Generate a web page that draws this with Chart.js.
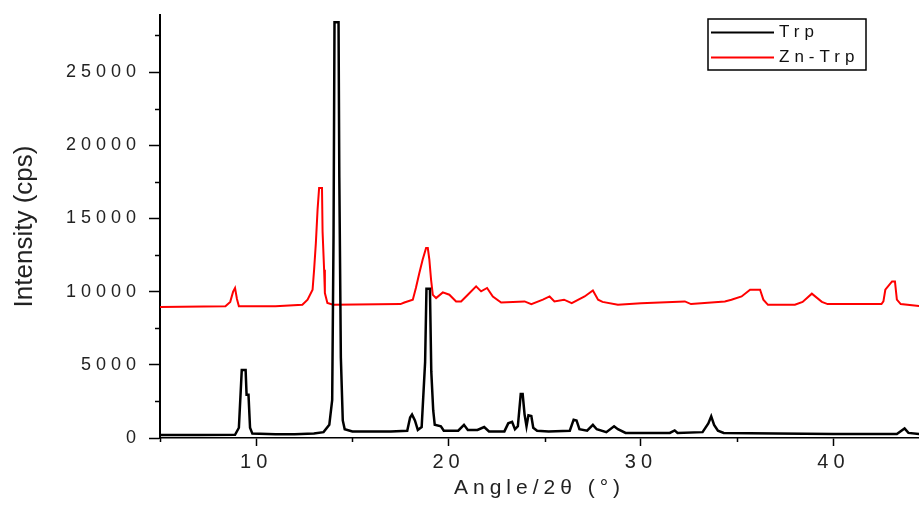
<!DOCTYPE html>
<html>
<head>
<meta charset="utf-8">
<script src="https://cdn.jsdelivr.net/npm/chart.js@4.4.1/dist/chart.umd.min.js"></script>
<style>
  html, body { margin: 0; padding: 0; background: #fff; }
</style>
</head>
<body>
<canvas id="xrdChart" width="919" height="505"></canvas>
<script>
// XRD patterns
const seriesNames = ['Trp', 'Zn-Trp'];

const trpAngle = [5.0, 7.0, 8.9, 9.1, 9.25, 9.45, 9.5, 9.6, 9.68, 9.8, 11.0, 12.0, 13.0, 13.5, 13.8,
    13.95, 14.02, 14.07, 14.28, 14.32, 14.4, 14.5, 14.6, 15.0, 17.0, 17.85, 18.0, 18.1, 18.25, 18.4,
    18.6, 18.78, 18.85, 19.03, 19.1, 19.2, 19.28, 19.6, 19.75, 20.5, 20.8, 21.0, 21.5, 21.85, 22.1,
    22.9, 23.1, 23.3, 23.45, 23.6, 23.75, 23.85, 23.95, 24.05, 24.15, 24.3, 24.4, 24.6, 25.2, 26.3,
    26.5, 26.65, 26.8, 27.2, 27.5, 27.7, 28.2, 28.6, 28.8, 29.2, 31.5, 31.75, 31.9, 33.2, 33.5,
    33.65, 33.8, 34.0, 34.3, 37.0, 40.0, 43.3, 43.7, 43.9, 44.6];
const trpCounts = [200, 200, 220, 700, 4650, 4650, 2950, 2950, 700, 300, 250, 250, 300, 400, 900,
    2600, 13800, 28400, 28400, 17800, 5500, 1200, 600, 450, 450, 500, 1400, 1600, 1200, 550,
    750, 5200, 10200, 10200, 4550, 1900, 900, 800, 500, 500, 900, 550, 550, 750, 450,
    450, 1000, 1100, 600, 800, 3000, 3000, 1600, 800, 1550, 1500, 700, 500, 450, 500,
    1250, 1200, 600, 500, 900, 600, 400, 800, 600, 350, 350, 520, 340, 400, 1000,
    1480, 900, 500, 340, 300, 280, 280, 650, 350, 250];

const znAngle = [5.0, 8.4, 8.65, 8.8, 8.9, 9.0, 9.1, 11.0, 12.4, 12.67, 12.93, 13.01, 13.1, 13.19, 13.27,
    13.42, 13.45, 13.53, 13.57, 13.7, 14.0, 17.5, 17.7, 18.14, 18.3, 18.48, 18.65, 18.83, 18.92, 19.0,
    19.09, 19.18, 19.35, 19.7, 20.04, 20.39, 20.65, 21.0, 21.43, 21.69, 22.0, 22.3, 22.73, 23.95, 24.3,
    24.9, 25.25, 25.5, 26.0, 26.4, 27.07, 27.5, 27.77, 28.0, 28.8, 30.0, 32.28, 32.6, 34.36, 34.7,
    35.23, 35.67, 36.19, 36.36, 36.6, 38.0, 38.4, 38.88, 39.4, 39.7, 42.5, 42.6, 42.7, 43.05, 43.2,
    43.3, 43.5, 44.6];
const znCounts = [8950, 9000, 9300, 10000, 10250, 9500, 9000, 9000, 9100, 9450, 10130, 11500, 13300, 15600, 17080,
    17080, 14100, 11500, 9900, 9220, 9100, 9150, 9260, 9450, 10250, 11270, 12180, 12980, 12980, 12180,
    10810, 9780, 9560, 9950, 9790, 9330, 9330, 9790, 10360, 10020, 10250, 9670, 9260, 9330, 9150,
    9450, 9670, 9330, 9450, 9220, 9670, 10080, 9450, 9300, 9100, 9200, 9330, 9150, 9330, 9450,
    9670, 10130, 10130, 9450, 9100, 9100, 9300, 9860, 9300, 9150, 9150, 9330, 10130, 10700, 10700,
    9450, 9150, 9000];

// axis ranges and labelled ticks
const xMin = 5, xMax = 44.45;
const yMin = 0, yMax = 28900;
const xTickValues = [10, 20, 30, 40];
const yTickValues = [0, 5000, 10000, 15000, 20000, 25000];

const FONT = '"Liberation Sans", Arial, sans-serif';
const SPACING = '5px';

function toPoints(xs, ys) {
    return xs.map((x, i) => ({ x: x, y: ys[i] }));
}

// wide letter spacing like the original figure, except the y title
const letterSpacing = {
    id: 'letterSpacing',
    beforeUpdate(chart) { chart.ctx.letterSpacing = SPACING; },
    afterLayout(chart) {
        const y = chart.scales.y;
        if (!y.plainTitle) {
            const draw = y.drawTitle.bind(y);
            y.drawTitle = function () {
                chart.ctx.letterSpacing = '0px';
                draw();
                chart.ctx.letterSpacing = SPACING;
            };
            y.plainTitle = true;
        }
    },
    beforeDraw(chart) { chart.ctx.letterSpacing = SPACING; }
};

// short minor ticks between the labelled ones
const minorTicks = {
    id: 'minorTicks',
    afterDraw(chart) {
        const ctx = chart.ctx;
        const xs = chart.scales.x, ys = chart.scales.y;
        ctx.save();
        ctx.strokeStyle = '#000';
        ctx.lineWidth = 1.5;
        ctx.beginPath();
        for (let v = 5; v <= xs.max; v += 10) {
            const px = Math.round(xs.getPixelForValue(v)) + 0.5;
            ctx.moveTo(px, chart.chartArea.bottom);
            ctx.lineTo(px, chart.chartArea.bottom + 4);
        }
        for (let v = 2500; v <= ys.max; v += 5000) {
            const py = Math.round(ys.getPixelForValue(v)) + 0.5;
            ctx.moveTo(chart.chartArea.left, py);
            ctx.lineTo(chart.chartArea.left - 5, py);
        }
        ctx.stroke();
        ctx.restore();
    }
};

// framed legend in the top right corner
const boxLegend = {
    id: 'boxLegend',
    afterDraw(chart) {
        const ctx = chart.ctx;
        const w = 158, h = 51;
        const left = chart.chartArea.right - 53 - w;
        const top = chart.chartArea.top + 4;
        ctx.save();
        ctx.letterSpacing = SPACING;
        ctx.strokeStyle = '#000';
        ctx.lineWidth = 1.5;
        ctx.strokeRect(left, top, w, h);
        ctx.font = '17px ' + FONT;
        ctx.textBaseline = 'middle';
        ctx.textAlign = 'left';
        chart.data.datasets.forEach((ds, i) => {
            const y = top + 13.5 + i * 25;
            ctx.strokeStyle = ds.borderColor;
            ctx.lineWidth = 2;
            ctx.beginPath();
            ctx.moveTo(left + 3, y);
            ctx.lineTo(left + 66, y);
            ctx.stroke();
            ctx.fillStyle = '#111';
            ctx.fillText(ds.label, left + 71, y);
        });
        ctx.restore();
    }
};

const ctx = document.getElementById('xrdChart').getContext('2d');
const chart = new Chart(ctx, {
    type: 'line',
    data: {
        datasets: [
            {
                label: seriesNames[0],
                data: toPoints(trpAngle, trpCounts),
                borderColor: '#000000',
                borderWidth: 2.5,
                pointRadius: 0,
                tension: 0,
                fill: false
            },
            {
                label: seriesNames[1],
                data: toPoints(znAngle, znCounts),
                borderColor: '#ff0000',
                borderWidth: 2,
                pointRadius: 0,
                tension: 0,
                fill: false
            }
        ]
    },
    options: {
        responsive: false,
        animation: false,
        layout: { padding: { top: 15, left: 0, right: 0, bottom: 0 } },
        plugins: {
            legend: { display: false },
            tooltip: { enabled: false }
        },
        scales: {
            x: {
                type: 'linear',
                min: xMin,
                max: xMax,
                afterBuildTicks(scale) { scale.ticks = xTickValues.map(v => ({ value: v })); },
                afterFit(scale) {
                    scale.height = 67;
                    scale.paddingLeft = 0;
                    scale.paddingRight = 0;
                },
                border: { display: true, color: '#000', width: 1.5 },
                grid: { drawOnChartArea: false, drawTicks: true, tickLength: 8, tickColor: '#000', tickWidth: 1.5 },
                ticks: {
                    maxRotation: 0,
                    autoSkip: false,
                    padding: 4,
                    color: '#222',
                    font: { family: FONT, size: 20 },
                    callback: v => String(v)
                },
                title: {
                    display: true,
                    text: 'Angle/2θ (°)',
                    color: '#222',
                    padding: { top: 0, bottom: 4 },
                    font: { family: FONT, size: 21 }
                }
            },
            y: {
                type: 'linear',
                min: yMin,
                max: yMax,
                afterBuildTicks(scale) { scale.ticks = yTickValues.map(v => ({ value: v })); },
                afterFit(scale) {
                    scale.width = 160;
                    scale.paddingTop = 0;
                    scale.paddingBottom = 0;
                },
                border: { display: true, color: '#000', width: 2 },
                grid: { drawOnChartArea: false, drawTicks: true, tickLength: 11, tickColor: '#000', tickWidth: 1.5 },
                ticks: {
                    autoSkip: false,
                    padding: 8,
                    color: '#222',
                    font: { family: FONT, size: 18 },
                    callback: v => String(v)
                },
                title: {
                    display: true,
                    text: 'Intensity (cps)',
                    color: '#222',
                    padding: { top: 9, bottom: 0 },
                    font: { family: FONT, size: 26 }
                }
            }
        }
    },
    plugins: [letterSpacing, minorTicks, boxLegend]
});
</script>
</body>
</html>
